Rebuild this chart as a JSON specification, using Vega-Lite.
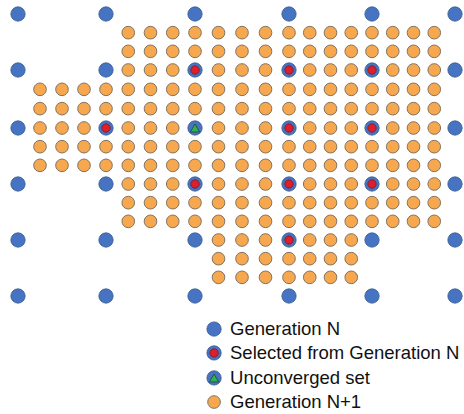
{
  "$schema": "https://vega.github.io/schema/vega-lite/v6.json",
  "width": 464,
  "height": 414,
  "padding": 0,
  "autosize": "none",
  "background": "white",
  "config": {"view": {"stroke": null}},
  "datasets": {
    "gen": [
      {"i":0,"j":0,"k":"N"},{"i":4,"j":0,"k":"N"},{"i":8,"j":0,"k":"N"},{"i":12,"j":0,"k":"N"},{"i":16,"j":0,"k":"N"},{"i":20,"j":0,"k":"N"},
      {"i":0,"j":3,"k":"N"},{"i":4,"j":3,"k":"N"},{"i":8,"j":3,"k":"sel"},{"i":12,"j":3,"k":"sel"},{"i":16,"j":3,"k":"sel"},{"i":20,"j":3,"k":"N"},
      {"i":0,"j":6,"k":"N"},{"i":4,"j":6,"k":"sel"},{"i":8,"j":6,"k":"unc"},{"i":12,"j":6,"k":"sel"},{"i":16,"j":6,"k":"sel"},{"i":20,"j":6,"k":"N"},
      {"i":0,"j":9,"k":"N"},{"i":4,"j":9,"k":"N"},{"i":8,"j":9,"k":"sel"},{"i":12,"j":9,"k":"sel"},{"i":16,"j":9,"k":"sel"},{"i":20,"j":9,"k":"N"},
      {"i":0,"j":12,"k":"N"},{"i":4,"j":12,"k":"N"},{"i":8,"j":12,"k":"N"},{"i":12,"j":12,"k":"sel"},{"i":16,"j":12,"k":"N"},{"i":20,"j":12,"k":"N"},
      {"i":0,"j":15,"k":"N"},{"i":4,"j":15,"k":"N"},{"i":8,"j":15,"k":"N"},{"i":12,"j":15,"k":"N"},{"i":16,"j":15,"k":"N"},{"i":20,"j":15,"k":"N"},
      {"i":5,"j":1,"k":"N1"},{"i":6,"j":1,"k":"N1"},{"i":7,"j":1,"k":"N1"},{"i":8,"j":1,"k":"N1"},{"i":9,"j":1,"k":"N1"},{"i":10,"j":1,"k":"N1"},{"i":11,"j":1,"k":"N1"},{"i":12,"j":1,"k":"N1"},{"i":13,"j":1,"k":"N1"},{"i":14,"j":1,"k":"N1"},{"i":15,"j":1,"k":"N1"},{"i":16,"j":1,"k":"N1"},{"i":17,"j":1,"k":"N1"},{"i":18,"j":1,"k":"N1"},{"i":19,"j":1,"k":"N1"},
      {"i":5,"j":2,"k":"N1"},{"i":6,"j":2,"k":"N1"},{"i":7,"j":2,"k":"N1"},{"i":8,"j":2,"k":"N1"},{"i":9,"j":2,"k":"N1"},{"i":10,"j":2,"k":"N1"},{"i":11,"j":2,"k":"N1"},{"i":12,"j":2,"k":"N1"},{"i":13,"j":2,"k":"N1"},{"i":14,"j":2,"k":"N1"},{"i":15,"j":2,"k":"N1"},{"i":16,"j":2,"k":"N1"},{"i":17,"j":2,"k":"N1"},{"i":18,"j":2,"k":"N1"},{"i":19,"j":2,"k":"N1"},
      {"i":5,"j":3,"k":"N1"},{"i":6,"j":3,"k":"N1"},{"i":7,"j":3,"k":"N1"},{"i":9,"j":3,"k":"N1"},{"i":10,"j":3,"k":"N1"},{"i":11,"j":3,"k":"N1"},{"i":13,"j":3,"k":"N1"},{"i":14,"j":3,"k":"N1"},{"i":15,"j":3,"k":"N1"},{"i":17,"j":3,"k":"N1"},{"i":18,"j":3,"k":"N1"},{"i":19,"j":3,"k":"N1"},
      {"i":1,"j":4,"k":"N1"},{"i":2,"j":4,"k":"N1"},{"i":3,"j":4,"k":"N1"},{"i":4,"j":4,"k":"N1"},{"i":5,"j":4,"k":"N1"},{"i":6,"j":4,"k":"N1"},{"i":7,"j":4,"k":"N1"},{"i":8,"j":4,"k":"N1"},{"i":9,"j":4,"k":"N1"},{"i":10,"j":4,"k":"N1"},{"i":11,"j":4,"k":"N1"},{"i":12,"j":4,"k":"N1"},{"i":13,"j":4,"k":"N1"},{"i":14,"j":4,"k":"N1"},{"i":15,"j":4,"k":"N1"},{"i":16,"j":4,"k":"N1"},{"i":17,"j":4,"k":"N1"},{"i":18,"j":4,"k":"N1"},{"i":19,"j":4,"k":"N1"},
      {"i":1,"j":5,"k":"N1"},{"i":2,"j":5,"k":"N1"},{"i":3,"j":5,"k":"N1"},{"i":4,"j":5,"k":"N1"},{"i":5,"j":5,"k":"N1"},{"i":6,"j":5,"k":"N1"},{"i":7,"j":5,"k":"N1"},{"i":8,"j":5,"k":"N1"},{"i":9,"j":5,"k":"N1"},{"i":10,"j":5,"k":"N1"},{"i":11,"j":5,"k":"N1"},{"i":12,"j":5,"k":"N1"},{"i":13,"j":5,"k":"N1"},{"i":14,"j":5,"k":"N1"},{"i":15,"j":5,"k":"N1"},{"i":16,"j":5,"k":"N1"},{"i":17,"j":5,"k":"N1"},{"i":18,"j":5,"k":"N1"},{"i":19,"j":5,"k":"N1"},
      {"i":1,"j":6,"k":"N1"},{"i":2,"j":6,"k":"N1"},{"i":3,"j":6,"k":"N1"},{"i":5,"j":6,"k":"N1"},{"i":6,"j":6,"k":"N1"},{"i":7,"j":6,"k":"N1"},{"i":9,"j":6,"k":"N1"},{"i":10,"j":6,"k":"N1"},{"i":11,"j":6,"k":"N1"},{"i":13,"j":6,"k":"N1"},{"i":14,"j":6,"k":"N1"},{"i":15,"j":6,"k":"N1"},{"i":17,"j":6,"k":"N1"},{"i":18,"j":6,"k":"N1"},{"i":19,"j":6,"k":"N1"},
      {"i":1,"j":7,"k":"N1"},{"i":2,"j":7,"k":"N1"},{"i":3,"j":7,"k":"N1"},{"i":4,"j":7,"k":"N1"},{"i":5,"j":7,"k":"N1"},{"i":6,"j":7,"k":"N1"},{"i":7,"j":7,"k":"N1"},{"i":8,"j":7,"k":"N1"},{"i":9,"j":7,"k":"N1"},{"i":10,"j":7,"k":"N1"},{"i":11,"j":7,"k":"N1"},{"i":12,"j":7,"k":"N1"},{"i":13,"j":7,"k":"N1"},{"i":14,"j":7,"k":"N1"},{"i":15,"j":7,"k":"N1"},{"i":16,"j":7,"k":"N1"},{"i":17,"j":7,"k":"N1"},{"i":18,"j":7,"k":"N1"},{"i":19,"j":7,"k":"N1"},
      {"i":1,"j":8,"k":"N1"},{"i":2,"j":8,"k":"N1"},{"i":3,"j":8,"k":"N1"},{"i":4,"j":8,"k":"N1"},{"i":5,"j":8,"k":"N1"},{"i":6,"j":8,"k":"N1"},{"i":7,"j":8,"k":"N1"},{"i":8,"j":8,"k":"N1"},{"i":9,"j":8,"k":"N1"},{"i":10,"j":8,"k":"N1"},{"i":11,"j":8,"k":"N1"},{"i":12,"j":8,"k":"N1"},{"i":13,"j":8,"k":"N1"},{"i":14,"j":8,"k":"N1"},{"i":15,"j":8,"k":"N1"},{"i":16,"j":8,"k":"N1"},{"i":17,"j":8,"k":"N1"},{"i":18,"j":8,"k":"N1"},{"i":19,"j":8,"k":"N1"},
      {"i":5,"j":9,"k":"N1"},{"i":6,"j":9,"k":"N1"},{"i":7,"j":9,"k":"N1"},{"i":9,"j":9,"k":"N1"},{"i":10,"j":9,"k":"N1"},{"i":11,"j":9,"k":"N1"},{"i":13,"j":9,"k":"N1"},{"i":14,"j":9,"k":"N1"},{"i":15,"j":9,"k":"N1"},{"i":17,"j":9,"k":"N1"},{"i":18,"j":9,"k":"N1"},{"i":19,"j":9,"k":"N1"},
      {"i":5,"j":10,"k":"N1"},{"i":6,"j":10,"k":"N1"},{"i":7,"j":10,"k":"N1"},{"i":8,"j":10,"k":"N1"},{"i":9,"j":10,"k":"N1"},{"i":10,"j":10,"k":"N1"},{"i":11,"j":10,"k":"N1"},{"i":12,"j":10,"k":"N1"},{"i":13,"j":10,"k":"N1"},{"i":14,"j":10,"k":"N1"},{"i":15,"j":10,"k":"N1"},{"i":16,"j":10,"k":"N1"},{"i":17,"j":10,"k":"N1"},{"i":18,"j":10,"k":"N1"},{"i":19,"j":10,"k":"N1"},
      {"i":5,"j":11,"k":"N1"},{"i":6,"j":11,"k":"N1"},{"i":7,"j":11,"k":"N1"},{"i":8,"j":11,"k":"N1"},{"i":9,"j":11,"k":"N1"},{"i":10,"j":11,"k":"N1"},{"i":11,"j":11,"k":"N1"},{"i":12,"j":11,"k":"N1"},{"i":13,"j":11,"k":"N1"},{"i":14,"j":11,"k":"N1"},{"i":15,"j":11,"k":"N1"},{"i":16,"j":11,"k":"N1"},{"i":17,"j":11,"k":"N1"},{"i":18,"j":11,"k":"N1"},{"i":19,"j":11,"k":"N1"},
      {"i":9,"j":12,"k":"N1"},{"i":10,"j":12,"k":"N1"},{"i":11,"j":12,"k":"N1"},{"i":13,"j":12,"k":"N1"},{"i":14,"j":12,"k":"N1"},{"i":15,"j":12,"k":"N1"},
      {"i":9,"j":13,"k":"N1"},{"i":10,"j":13,"k":"N1"},{"i":11,"j":13,"k":"N1"},{"i":12,"j":13,"k":"N1"},{"i":13,"j":13,"k":"N1"},{"i":14,"j":13,"k":"N1"},{"i":15,"j":13,"k":"N1"},
      {"i":9,"j":14,"k":"N1"},{"i":10,"j":14,"k":"N1"},{"i":11,"j":14,"k":"N1"},{"i":12,"j":14,"k":"N1"},{"i":13,"j":14,"k":"N1"},{"i":14,"j":14,"k":"N1"},{"i":15,"j":14,"k":"N1"},
      {"i":8.81,"j":16.77,"k":"N","label":"Generation N"},
      {"i":8.81,"j":18.05,"k":"sel","label":"Selected from Generation N"},
      {"i":8.81,"j":19.39,"k":"unc","label":"Unconverged set"},
      {"i":8.81,"j":20.68,"k":"N1","label":"Generation N+1"}
    ]
  },
  "data": {"name": "gen"},
  "encoding": {
    "x": {"field": "i", "type": "quantitative", "axis": null, "scale": {"domain": [0, 4, 8, 12, 16, 20], "range": [18, 106, 195, 289, 372, 455], "nice": false, "zero": false}},
    "y": {"field": "j", "type": "quantitative", "axis": null, "scale": {"domain": [0, 3, 6, 9, 12, 15], "range": [14, 70, 128, 184, 240, 296], "nice": false, "zero": false}}
  },
  "layer": [
    {
      "transform": [{"filter": "datum.k !== 'N1'"}],
      "mark": {"type": "point", "shape": "circle", "filled": true, "size": 205, "fill": "#4674c2", "stroke": "#35598f", "strokeWidth": 0.8, "opacity": 1}
    },
    {
      "transform": [{"filter": "datum.k === 'N1'"}],
      "mark": {"type": "point", "shape": "circle", "filled": true, "size": 160, "fill": "#f7a84e", "stroke": "#7f7464", "strokeWidth": 1, "opacity": 1}
    },
    {
      "transform": [{"filter": "datum.k === 'sel'"}],
      "mark": {"type": "point", "shape": "circle", "filled": true, "size": 70, "fill": "#dd1e2c", "stroke": "#7a1a22", "strokeWidth": 0.8, "opacity": 1}
    },
    {
      "transform": [{"filter": "datum.k === 'unc'"}],
      "mark": {"type": "point", "shape": "triangle-up", "filled": true, "size": 85, "fill": "#30b44a", "stroke": "#1f4a2a", "strokeWidth": 0.8, "opacity": 1}
    },
    {
      "transform": [{"filter": "isValid(datum.label)"}],
      "mark": {"type": "text", "align": "left", "baseline": "middle", "dx": 16, "font": "Liberation Sans", "fontSize": 18.5, "fill": "#111111"},
      "encoding": {"text": {"field": "label", "type": "nominal"}}
    }
  ]
}
